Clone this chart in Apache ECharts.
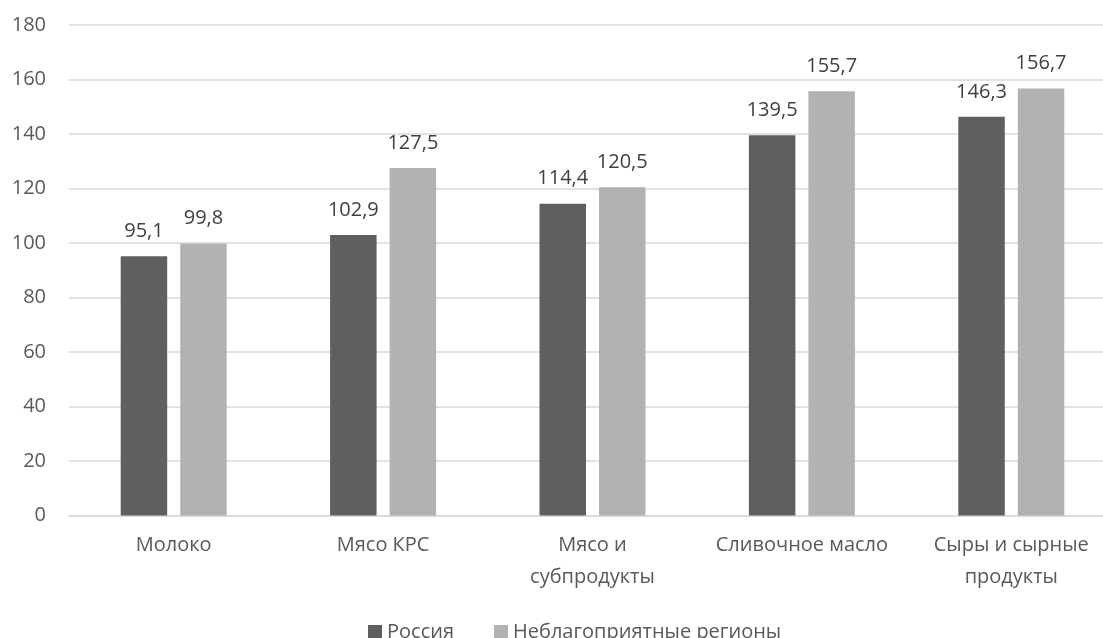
<!DOCTYPE html>
<html>
<head>
<meta charset="utf-8">
<script src="https://cdn.jsdelivr.net/npm/echarts@6/dist/echarts.min.js"></script>
<style>
html,body{margin:0;padding:0;background:#fff;overflow:hidden;width:1103px;height:638px;}
#chart{width:1116px;height:638px;}
</style>
</head>
<body>
<div id="chart"></div>
<script>
const categories = ['Молоко', 'Мясо КРС', 'Мясо и\nсубпродукты', 'Сливочное масло', 'Сыры и сырные\nпродукты'];
const russia = [95.1, 102.9, 114.4, 139.5, 146.3];
const regions = [99.8, 127.5, 120.5, 155.7, 156.7];
const seriesNames = ['Россия', 'Неблагоприятные регионы'];
const yTicks = {min: 0, max: 180, interval: 20};

const font = '"Open Sans", "Noto Sans", sans-serif';
const chart = echarts.init(document.getElementById('chart'));
const labelOpt = {
  show: true, position: 'top', distance: 15,
  color: '#404040', fontSize: 20, fontFamily: font,
  formatter: p => String(p.value).replace('.', ',')
};
chart.setOption({
  animation: false,
  textStyle: {fontFamily: font},
  grid: {left: 69, right: 0, top: 25, bottom: 122.5, containLabel: false},
  legend: {
    data: seriesNames, top: 617, left: 363,
    itemWidth: 14, itemHeight: 14, itemGap: 40,
    icon: 'rect',
    textStyle: {color: '#595959', fontSize: 20, fontFamily: font}
  },
  xAxis: {
    type: 'category', data: categories,
    axisLine: {lineStyle: {color: '#d9d9d9', width: 1.5}},
    axisTick: {show: false},
    axisLabel: {color: '#595959', fontSize: 20, margin: 14, lineHeight: 32, fontFamily: font, interval: 0}
  },
  yAxis: {
    type: 'value', min: yTicks.min, max: yTicks.max, interval: yTicks.interval,
    axisLine: {show: false}, axisTick: {show: false},
    splitLine: {lineStyle: {color: '#d9d9d9', width: 1.5}},
    axisLabel: {color: '#595959', fontSize: 20, margin: 23, fontFamily: font}
  },
  series: [
    {name: seriesNames[0], type: 'bar', data: russia, barWidth: 46.5, barGap: '28%',
     itemStyle: {color: '#5f5f5f'}, label: labelOpt},
    {name: seriesNames[1], type: 'bar', data: regions, barWidth: 46.5,
     itemStyle: {color: '#b2b2b2'}, label: labelOpt}
  ]
});
</script>
</body>
</html>
